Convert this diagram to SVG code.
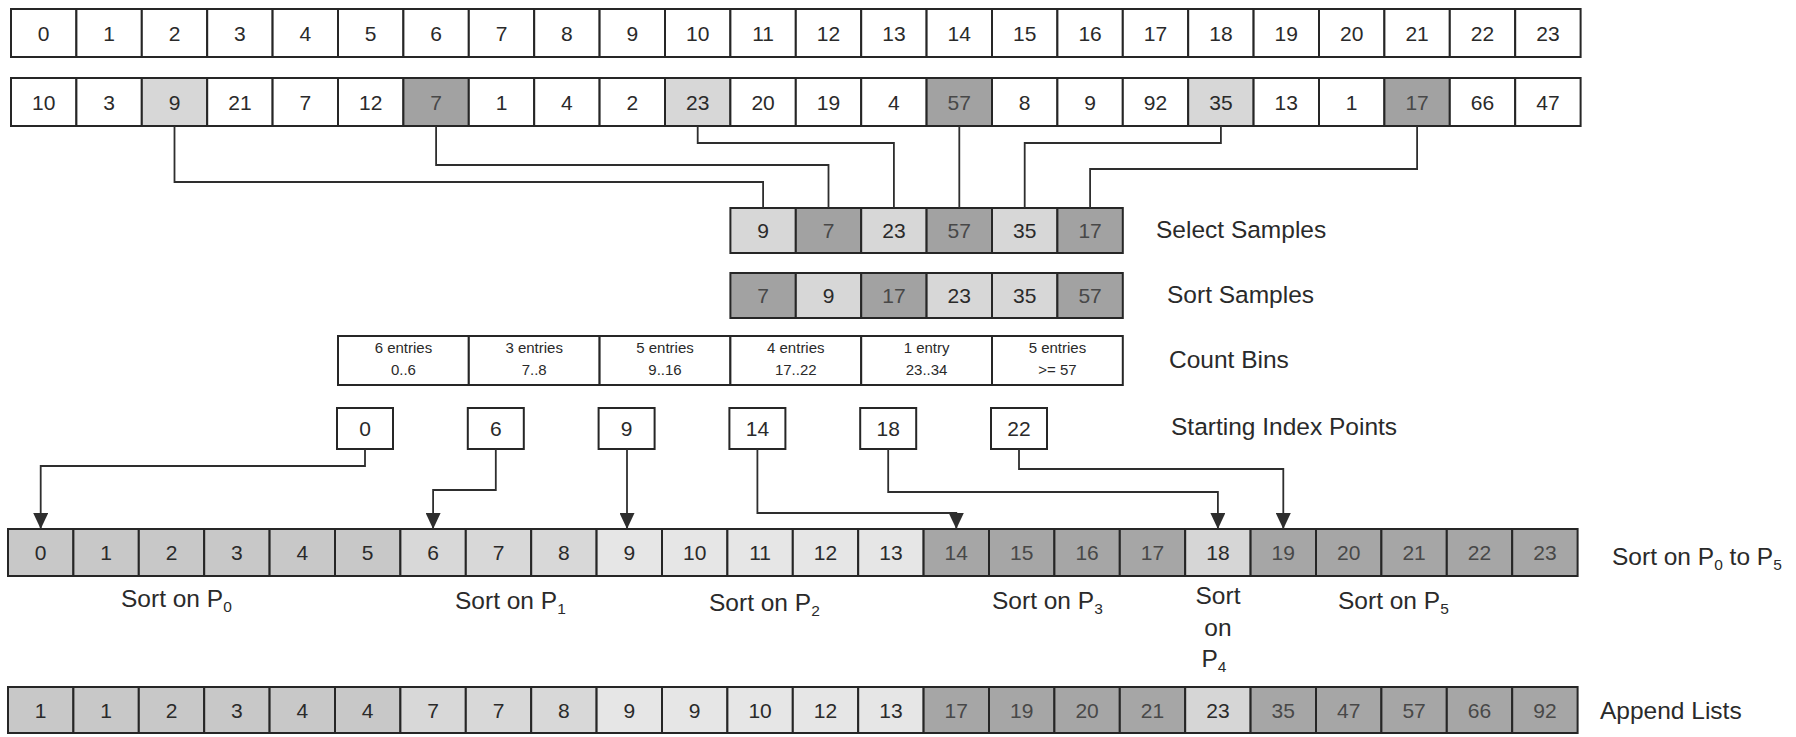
<svg xmlns="http://www.w3.org/2000/svg" width="1796" height="737" viewBox="0 0 1796 737">
<style>
.c{stroke:#262626;stroke-width:2;fill:#fff}
.l{fill:#d7d7d7}.d{fill:#a2a2a2}
.g0{fill:#c8c8c8}.g1{fill:#d8d8d8}.g2{fill:#e6e6e6}.g3{fill:#a6a6a6}.g4{fill:#d6d6d6}
text{font-family:"Liberation Sans",Arial,sans-serif;fill:#2a2a2a}
.n{font-size:21px;text-anchor:middle}
.dt{fill:#484848}
.s{font-size:15px;text-anchor:middle}
.lb{font-size:24.5px}
.lbm{font-size:24.5px;text-anchor:middle}
.sub{font-size:15.5px}
.w{fill:none;stroke:#2e2e2e;stroke-width:1.8}
</style>
<defs>
<marker id="ah" markerUnits="userSpaceOnUse" markerWidth="16" markerHeight="15" refX="16" refY="7.5" orient="auto" viewBox="0 0 16 15">
<path d="M0,0 L16,7.5 L0,15 Z" fill="#2e2e2e"/>
</marker>
</defs>

<g id="rowIndex">
<g id="a0"><rect class="c" x="11" y="9" width="65.4" height="48"/><text class="n" x="43.7" y="40.5">0</text></g>
<g id="a1"><rect class="c" x="76.4" y="9" width="65.4" height="48"/><text class="n" x="109.1" y="40.5">1</text></g>
<g id="a2"><rect class="c" x="141.8" y="9" width="65.4" height="48"/><text class="n" x="174.5" y="40.5">2</text></g>
<g id="a3"><rect class="c" x="207.2" y="9" width="65.4" height="48"/><text class="n" x="239.9" y="40.5">3</text></g>
<g id="a4"><rect class="c" x="272.6" y="9" width="65.4" height="48"/><text class="n" x="305.3" y="40.5">4</text></g>
<g id="a5"><rect class="c" x="338" y="9" width="65.4" height="48"/><text class="n" x="370.7" y="40.5">5</text></g>
<g id="a6"><rect class="c" x="403.4" y="9" width="65.4" height="48"/><text class="n" x="436.1" y="40.5">6</text></g>
<g id="a7"><rect class="c" x="468.8" y="9" width="65.4" height="48"/><text class="n" x="501.5" y="40.5">7</text></g>
<g id="a8"><rect class="c" x="534.2" y="9" width="65.4" height="48"/><text class="n" x="566.9" y="40.5">8</text></g>
<g id="a9"><rect class="c" x="599.6" y="9" width="65.4" height="48"/><text class="n" x="632.3" y="40.5">9</text></g>
<g id="a10"><rect class="c" x="665" y="9" width="65.4" height="48"/><text class="n" x="697.7" y="40.5">10</text></g>
<g id="a11"><rect class="c" x="730.4" y="9" width="65.4" height="48"/><text class="n" x="763.1" y="40.5">11</text></g>
<g id="a12"><rect class="c" x="795.8" y="9" width="65.4" height="48"/><text class="n" x="828.5" y="40.5">12</text></g>
<g id="a13"><rect class="c" x="861.2" y="9" width="65.4" height="48"/><text class="n" x="893.9" y="40.5">13</text></g>
<g id="a14"><rect class="c" x="926.6" y="9" width="65.4" height="48"/><text class="n" x="959.3" y="40.5">14</text></g>
<g id="a15"><rect class="c" x="992" y="9" width="65.4" height="48"/><text class="n" x="1024.7" y="40.5">15</text></g>
<g id="a16"><rect class="c" x="1057.4" y="9" width="65.4" height="48"/><text class="n" x="1090.1" y="40.5">16</text></g>
<g id="a17"><rect class="c" x="1122.8" y="9" width="65.4" height="48"/><text class="n" x="1155.5" y="40.5">17</text></g>
<g id="a18"><rect class="c" x="1188.2" y="9" width="65.4" height="48"/><text class="n" x="1220.9" y="40.5">18</text></g>
<g id="a19"><rect class="c" x="1253.6" y="9" width="65.4" height="48"/><text class="n" x="1286.3" y="40.5">19</text></g>
<g id="a20"><rect class="c" x="1319" y="9" width="65.4" height="48"/><text class="n" x="1351.7" y="40.5">20</text></g>
<g id="a21"><rect class="c" x="1384.4" y="9" width="65.4" height="48"/><text class="n" x="1417.1" y="40.5">21</text></g>
<g id="a22"><rect class="c" x="1449.8" y="9" width="65.4" height="48"/><text class="n" x="1482.5" y="40.5">22</text></g>
<g id="a23"><rect class="c" x="1515.2" y="9" width="65.4" height="48"/><text class="n" x="1547.9" y="40.5">23</text></g>
</g>

<g id="rowValues">
<g id="b0"><rect class="c" x="11" y="78" width="65.4" height="48"/><text class="n" x="43.7" y="109.5">10</text></g>
<g id="b1"><rect class="c" x="76.4" y="78" width="65.4" height="48"/><text class="n" x="109.1" y="109.5">3</text></g>
<g id="b2"><rect class="c l" x="141.8" y="78" width="65.4" height="48"/><text class="n" x="174.5" y="109.5">9</text></g>
<g id="b3"><rect class="c" x="207.2" y="78" width="65.4" height="48"/><text class="n" x="239.9" y="109.5">21</text></g>
<g id="b4"><rect class="c" x="272.6" y="78" width="65.4" height="48"/><text class="n" x="305.3" y="109.5">7</text></g>
<g id="b5"><rect class="c" x="338" y="78" width="65.4" height="48"/><text class="n" x="370.7" y="109.5">12</text></g>
<g id="b6"><rect class="c d" x="403.4" y="78" width="65.4" height="48"/><text class="n dt" x="436.1" y="109.5">7</text></g>
<g id="b7"><rect class="c" x="468.8" y="78" width="65.4" height="48"/><text class="n" x="501.5" y="109.5">1</text></g>
<g id="b8"><rect class="c" x="534.2" y="78" width="65.4" height="48"/><text class="n" x="566.9" y="109.5">4</text></g>
<g id="b9"><rect class="c" x="599.6" y="78" width="65.4" height="48"/><text class="n" x="632.3" y="109.5">2</text></g>
<g id="b10"><rect class="c l" x="665" y="78" width="65.4" height="48"/><text class="n" x="697.7" y="109.5">23</text></g>
<g id="b11"><rect class="c" x="730.4" y="78" width="65.4" height="48"/><text class="n" x="763.1" y="109.5">20</text></g>
<g id="b12"><rect class="c" x="795.8" y="78" width="65.4" height="48"/><text class="n" x="828.5" y="109.5">19</text></g>
<g id="b13"><rect class="c" x="861.2" y="78" width="65.4" height="48"/><text class="n" x="893.9" y="109.5">4</text></g>
<g id="b14"><rect class="c d" x="926.6" y="78" width="65.4" height="48"/><text class="n dt" x="959.3" y="109.5">57</text></g>
<g id="b15"><rect class="c" x="992" y="78" width="65.4" height="48"/><text class="n" x="1024.7" y="109.5">8</text></g>
<g id="b16"><rect class="c" x="1057.4" y="78" width="65.4" height="48"/><text class="n" x="1090.1" y="109.5">9</text></g>
<g id="b17"><rect class="c" x="1122.8" y="78" width="65.4" height="48"/><text class="n" x="1155.5" y="109.5">92</text></g>
<g id="b18"><rect class="c l" x="1188.2" y="78" width="65.4" height="48"/><text class="n" x="1220.9" y="109.5">35</text></g>
<g id="b19"><rect class="c" x="1253.6" y="78" width="65.4" height="48"/><text class="n" x="1286.3" y="109.5">13</text></g>
<g id="b20"><rect class="c" x="1319" y="78" width="65.4" height="48"/><text class="n" x="1351.7" y="109.5">1</text></g>
<g id="b21"><rect class="c d" x="1384.4" y="78" width="65.4" height="48"/><text class="n dt" x="1417.1" y="109.5">17</text></g>
<g id="b22"><rect class="c" x="1449.8" y="78" width="65.4" height="48"/><text class="n" x="1482.5" y="109.5">66</text></g>
<g id="b23"><rect class="c" x="1515.2" y="78" width="65.4" height="48"/><text class="n" x="1547.9" y="109.5">47</text></g>
</g>

<g id="selectSamples">
<g id="sel0"><rect class="c l" x="730.4" y="208" width="65.4" height="45"/><text class="n" x="763.1" y="238">9</text></g>
<g id="sel1"><rect class="c d" x="795.8" y="208" width="65.4" height="45"/><text class="n dt" x="828.5" y="238">7</text></g>
<g id="sel2"><rect class="c l" x="861.2" y="208" width="65.4" height="45"/><text class="n" x="893.9" y="238">23</text></g>
<g id="sel3"><rect class="c d" x="926.6" y="208" width="65.4" height="45"/><text class="n dt" x="959.3" y="238">57</text></g>
<g id="sel4"><rect class="c l" x="992" y="208" width="65.4" height="45"/><text class="n" x="1024.7" y="238">35</text></g>
<g id="sel5"><rect class="c d" x="1057.4" y="208" width="65.4" height="45"/><text class="n dt" x="1090.1" y="238">17</text></g>
</g>

<g id="sortSamples">
<g id="srt0"><rect class="c d" x="730.4" y="273" width="65.4" height="45"/><text class="n dt" x="763.1" y="303">7</text></g>
<g id="srt1"><rect class="c l" x="795.8" y="273" width="65.4" height="45"/><text class="n" x="828.5" y="303">9</text></g>
<g id="srt2"><rect class="c d" x="861.2" y="273" width="65.4" height="45"/><text class="n dt" x="893.9" y="303">17</text></g>
<g id="srt3"><rect class="c l" x="926.6" y="273" width="65.4" height="45"/><text class="n" x="959.3" y="303">23</text></g>
<g id="srt4"><rect class="c l" x="992" y="273" width="65.4" height="45"/><text class="n" x="1024.7" y="303">35</text></g>
<g id="srt5"><rect class="c d" x="1057.4" y="273" width="65.4" height="45"/><text class="n dt" x="1090.1" y="303">57</text></g>
</g>

<g id="countBins">
<g id="bin0"><rect class="c" x="338" y="336" width="130.8" height="49"/><text class="s" x="403.4" y="353">6 entries</text><text class="s" x="403.4" y="375">0..6</text></g>
<g id="bin1"><rect class="c" x="468.8" y="336" width="130.8" height="49"/><text class="s" x="534.2" y="353">3 entries</text><text class="s" x="534.2" y="375">7..8</text></g>
<g id="bin2"><rect class="c" x="599.6" y="336" width="130.8" height="49"/><text class="s" x="665" y="353">5 entries</text><text class="s" x="665" y="375">9..16</text></g>
<g id="bin3"><rect class="c" x="730.4" y="336" width="130.8" height="49"/><text class="s" x="795.8" y="353">4 entries</text><text class="s" x="795.8" y="375">17..22</text></g>
<g id="bin4"><rect class="c" x="861.2" y="336" width="130.8" height="49"/><text class="s" x="926.6" y="353">1 entry</text><text class="s" x="926.6" y="375">23..34</text></g>
<g id="bin5"><rect class="c" x="992" y="336" width="130.8" height="49"/><text class="s" x="1057.4" y="353">5 entries</text><text class="s" x="1057.4" y="375">&gt;= 57</text></g>
</g>

<g id="startIndex">
<g id="si0"><rect class="c" x="337" y="408" width="56" height="41"/><text class="n" x="365" y="436">0</text></g>
<g id="si6"><rect class="c" x="467.8" y="408" width="56" height="41"/><text class="n" x="495.8" y="436">6</text></g>
<g id="si9"><rect class="c" x="598.6" y="408" width="56" height="41"/><text class="n" x="626.6" y="436">9</text></g>
<g id="si14"><rect class="c" x="729.4" y="408" width="56" height="41"/><text class="n" x="757.4" y="436">14</text></g>
<g id="si18"><rect class="c" x="860.2" y="408" width="56" height="41"/><text class="n" x="888.2" y="436">18</text></g>
<g id="si22"><rect class="c" x="991" y="408" width="56" height="41"/><text class="n" x="1019" y="436">22</text></g>
</g>

<g id="rowSorted">
<g id="m0"><rect class="c g0" x="8" y="529" width="65.4" height="47"/><text class="n" x="40.7" y="560">0</text></g>
<g id="m1"><rect class="c g0" x="73.4" y="529" width="65.4" height="47"/><text class="n" x="106.1" y="560">1</text></g>
<g id="m2"><rect class="c g0" x="138.8" y="529" width="65.4" height="47"/><text class="n" x="171.5" y="560">2</text></g>
<g id="m3"><rect class="c g0" x="204.2" y="529" width="65.4" height="47"/><text class="n" x="236.9" y="560">3</text></g>
<g id="m4"><rect class="c g0" x="269.6" y="529" width="65.4" height="47"/><text class="n" x="302.3" y="560">4</text></g>
<g id="m5"><rect class="c g0" x="335" y="529" width="65.4" height="47"/><text class="n" x="367.7" y="560">5</text></g>
<g id="m6"><rect class="c g1" x="400.4" y="529" width="65.4" height="47"/><text class="n" x="433.1" y="560">6</text></g>
<g id="m7"><rect class="c g1" x="465.8" y="529" width="65.4" height="47"/><text class="n" x="498.5" y="560">7</text></g>
<g id="m8"><rect class="c g1" x="531.2" y="529" width="65.4" height="47"/><text class="n" x="563.9" y="560">8</text></g>
<g id="m9"><rect class="c g2" x="596.6" y="529" width="65.4" height="47"/><text class="n" x="629.3" y="560">9</text></g>
<g id="m10"><rect class="c g2" x="662" y="529" width="65.4" height="47"/><text class="n" x="694.7" y="560">10</text></g>
<g id="m11"><rect class="c g2" x="727.4" y="529" width="65.4" height="47"/><text class="n" x="760.1" y="560">11</text></g>
<g id="m12"><rect class="c g2" x="792.8" y="529" width="65.4" height="47"/><text class="n" x="825.5" y="560">12</text></g>
<g id="m13"><rect class="c g2" x="858.2" y="529" width="65.4" height="47"/><text class="n" x="890.9" y="560">13</text></g>
<g id="m14"><rect class="c g3" x="923.6" y="529" width="65.4" height="47"/><text class="n dt" x="956.3" y="560">14</text></g>
<g id="m15"><rect class="c g3" x="989" y="529" width="65.4" height="47"/><text class="n dt" x="1021.7" y="560">15</text></g>
<g id="m16"><rect class="c g3" x="1054.4" y="529" width="65.4" height="47"/><text class="n dt" x="1087.1" y="560">16</text></g>
<g id="m17"><rect class="c g3" x="1119.8" y="529" width="65.4" height="47"/><text class="n dt" x="1152.5" y="560">17</text></g>
<g id="m18"><rect class="c g4" x="1185.2" y="529" width="65.4" height="47"/><text class="n" x="1217.9" y="560">18</text></g>
<g id="m19"><rect class="c g3" x="1250.6" y="529" width="65.4" height="47"/><text class="n dt" x="1283.3" y="560">19</text></g>
<g id="m20"><rect class="c g3" x="1316" y="529" width="65.4" height="47"/><text class="n dt" x="1348.7" y="560">20</text></g>
<g id="m21"><rect class="c g3" x="1381.4" y="529" width="65.4" height="47"/><text class="n dt" x="1414.1" y="560">21</text></g>
<g id="m22"><rect class="c g3" x="1446.8" y="529" width="65.4" height="47"/><text class="n dt" x="1479.5" y="560">22</text></g>
<g id="m23"><rect class="c g3" x="1512.2" y="529" width="65.4" height="47"/><text class="n dt" x="1544.9" y="560">23</text></g>
</g>

<g id="rowAppend">
<g id="p0"><rect class="c g0" x="8" y="687" width="65.4" height="46"/><text class="n" x="40.7" y="717.5">1</text></g>
<g id="p1"><rect class="c g0" x="73.4" y="687" width="65.4" height="46"/><text class="n" x="106.1" y="717.5">1</text></g>
<g id="p2"><rect class="c g0" x="138.8" y="687" width="65.4" height="46"/><text class="n" x="171.5" y="717.5">2</text></g>
<g id="p3"><rect class="c g0" x="204.2" y="687" width="65.4" height="46"/><text class="n" x="236.9" y="717.5">3</text></g>
<g id="p4"><rect class="c g0" x="269.6" y="687" width="65.4" height="46"/><text class="n" x="302.3" y="717.5">4</text></g>
<g id="p5"><rect class="c g0" x="335" y="687" width="65.4" height="46"/><text class="n" x="367.7" y="717.5">4</text></g>
<g id="p6"><rect class="c g1" x="400.4" y="687" width="65.4" height="46"/><text class="n" x="433.1" y="717.5">7</text></g>
<g id="p7"><rect class="c g1" x="465.8" y="687" width="65.4" height="46"/><text class="n" x="498.5" y="717.5">7</text></g>
<g id="p8"><rect class="c g1" x="531.2" y="687" width="65.4" height="46"/><text class="n" x="563.9" y="717.5">8</text></g>
<g id="p9"><rect class="c g2" x="596.6" y="687" width="65.4" height="46"/><text class="n" x="629.3" y="717.5">9</text></g>
<g id="p10"><rect class="c g2" x="662" y="687" width="65.4" height="46"/><text class="n" x="694.7" y="717.5">9</text></g>
<g id="p11"><rect class="c g2" x="727.4" y="687" width="65.4" height="46"/><text class="n" x="760.1" y="717.5">10</text></g>
<g id="p12"><rect class="c g2" x="792.8" y="687" width="65.4" height="46"/><text class="n" x="825.5" y="717.5">12</text></g>
<g id="p13"><rect class="c g2" x="858.2" y="687" width="65.4" height="46"/><text class="n" x="890.9" y="717.5">13</text></g>
<g id="p14"><rect class="c g3" x="923.6" y="687" width="65.4" height="46"/><text class="n dt" x="956.3" y="717.5">17</text></g>
<g id="p15"><rect class="c g3" x="989" y="687" width="65.4" height="46"/><text class="n dt" x="1021.7" y="717.5">19</text></g>
<g id="p16"><rect class="c g3" x="1054.4" y="687" width="65.4" height="46"/><text class="n dt" x="1087.1" y="717.5">20</text></g>
<g id="p17"><rect class="c g3" x="1119.8" y="687" width="65.4" height="46"/><text class="n dt" x="1152.5" y="717.5">21</text></g>
<g id="p18"><rect class="c g4" x="1185.2" y="687" width="65.4" height="46"/><text class="n" x="1217.9" y="717.5">23</text></g>
<g id="p19"><rect class="c g3" x="1250.6" y="687" width="65.4" height="46"/><text class="n dt" x="1283.3" y="717.5">35</text></g>
<g id="p20"><rect class="c g3" x="1316" y="687" width="65.4" height="46"/><text class="n dt" x="1348.7" y="717.5">47</text></g>
<g id="p21"><rect class="c g3" x="1381.4" y="687" width="65.4" height="46"/><text class="n dt" x="1414.1" y="717.5">57</text></g>
<g id="p22"><rect class="c g3" x="1446.8" y="687" width="65.4" height="46"/><text class="n dt" x="1479.5" y="717.5">66</text></g>
<g id="p23"><rect class="c g3" x="1512.2" y="687" width="65.4" height="46"/><text class="n dt" x="1544.9" y="717.5">92</text></g>
</g>

<g id="connectors">
<path class="w" d="M174.5 126 V182 H763.1 V208"/>
<path class="w" d="M436.1 126 V165 H828.5 V208"/>
<path class="w" d="M697.7 126 V143 H893.9 V208"/>
<path class="w" d="M959.3 126 V208"/>
<path class="w" d="M1220.9 126 V143 H1024.7 V208"/>
<path class="w" d="M1417.1 126 V169 H1090.1 V208"/>
<path class="w" marker-end="url(#ah)" d="M365 449 V466 H40.7 V529"/>
<path class="w" marker-end="url(#ah)" d="M495.8 449 V490 H433.1 V529"/>
<path class="w" marker-end="url(#ah)" d="M627 449 V529"/>
<path class="w" marker-end="url(#ah)" d="M757.4 449 V513 H956.3 V529"/>
<path class="w" marker-end="url(#ah)" d="M888.2 449 V492 H1217.9 V529"/>
<path class="w" marker-end="url(#ah)" d="M1019 449 V469 H1283.3 V529"/>
</g>

<g id="labels">
<text class="lb" x="1156" y="238">Select Samples</text>
<text class="lb" x="1167" y="303">Sort Samples</text>
<text class="lb" x="1169" y="368">Count Bins</text>
<text class="lb" x="1171" y="435">Starting Index Points</text>
<text class="lb" x="1612" y="565">Sort on P<tspan class="sub" dy="5">0</tspan><tspan dy="-5"> to P</tspan><tspan class="sub" dy="5">5</tspan></text>
<text class="lb" x="1600" y="719">Append Lists</text>
<text class="lb" x="121" y="607">Sort on P<tspan class="sub" dy="5">0</tspan></text>
<text class="lb" x="455" y="609">Sort on P<tspan class="sub" dy="5">1</tspan></text>
<text class="lb" x="709" y="611">Sort on P<tspan class="sub" dy="5">2</tspan></text>
<text class="lb" x="992" y="609">Sort on P<tspan class="sub" dy="5">3</tspan></text>
<text class="lb" x="1338" y="609">Sort on P<tspan class="sub" dy="5">5</tspan></text>
<text class="lbm" x="1218" y="604">Sort</text>
<text class="lbm" x="1218" y="636">on</text>
<text class="lbm" x="1214" y="667">P<tspan class="sub" dy="5">4</tspan></text>
</g>
</svg>
